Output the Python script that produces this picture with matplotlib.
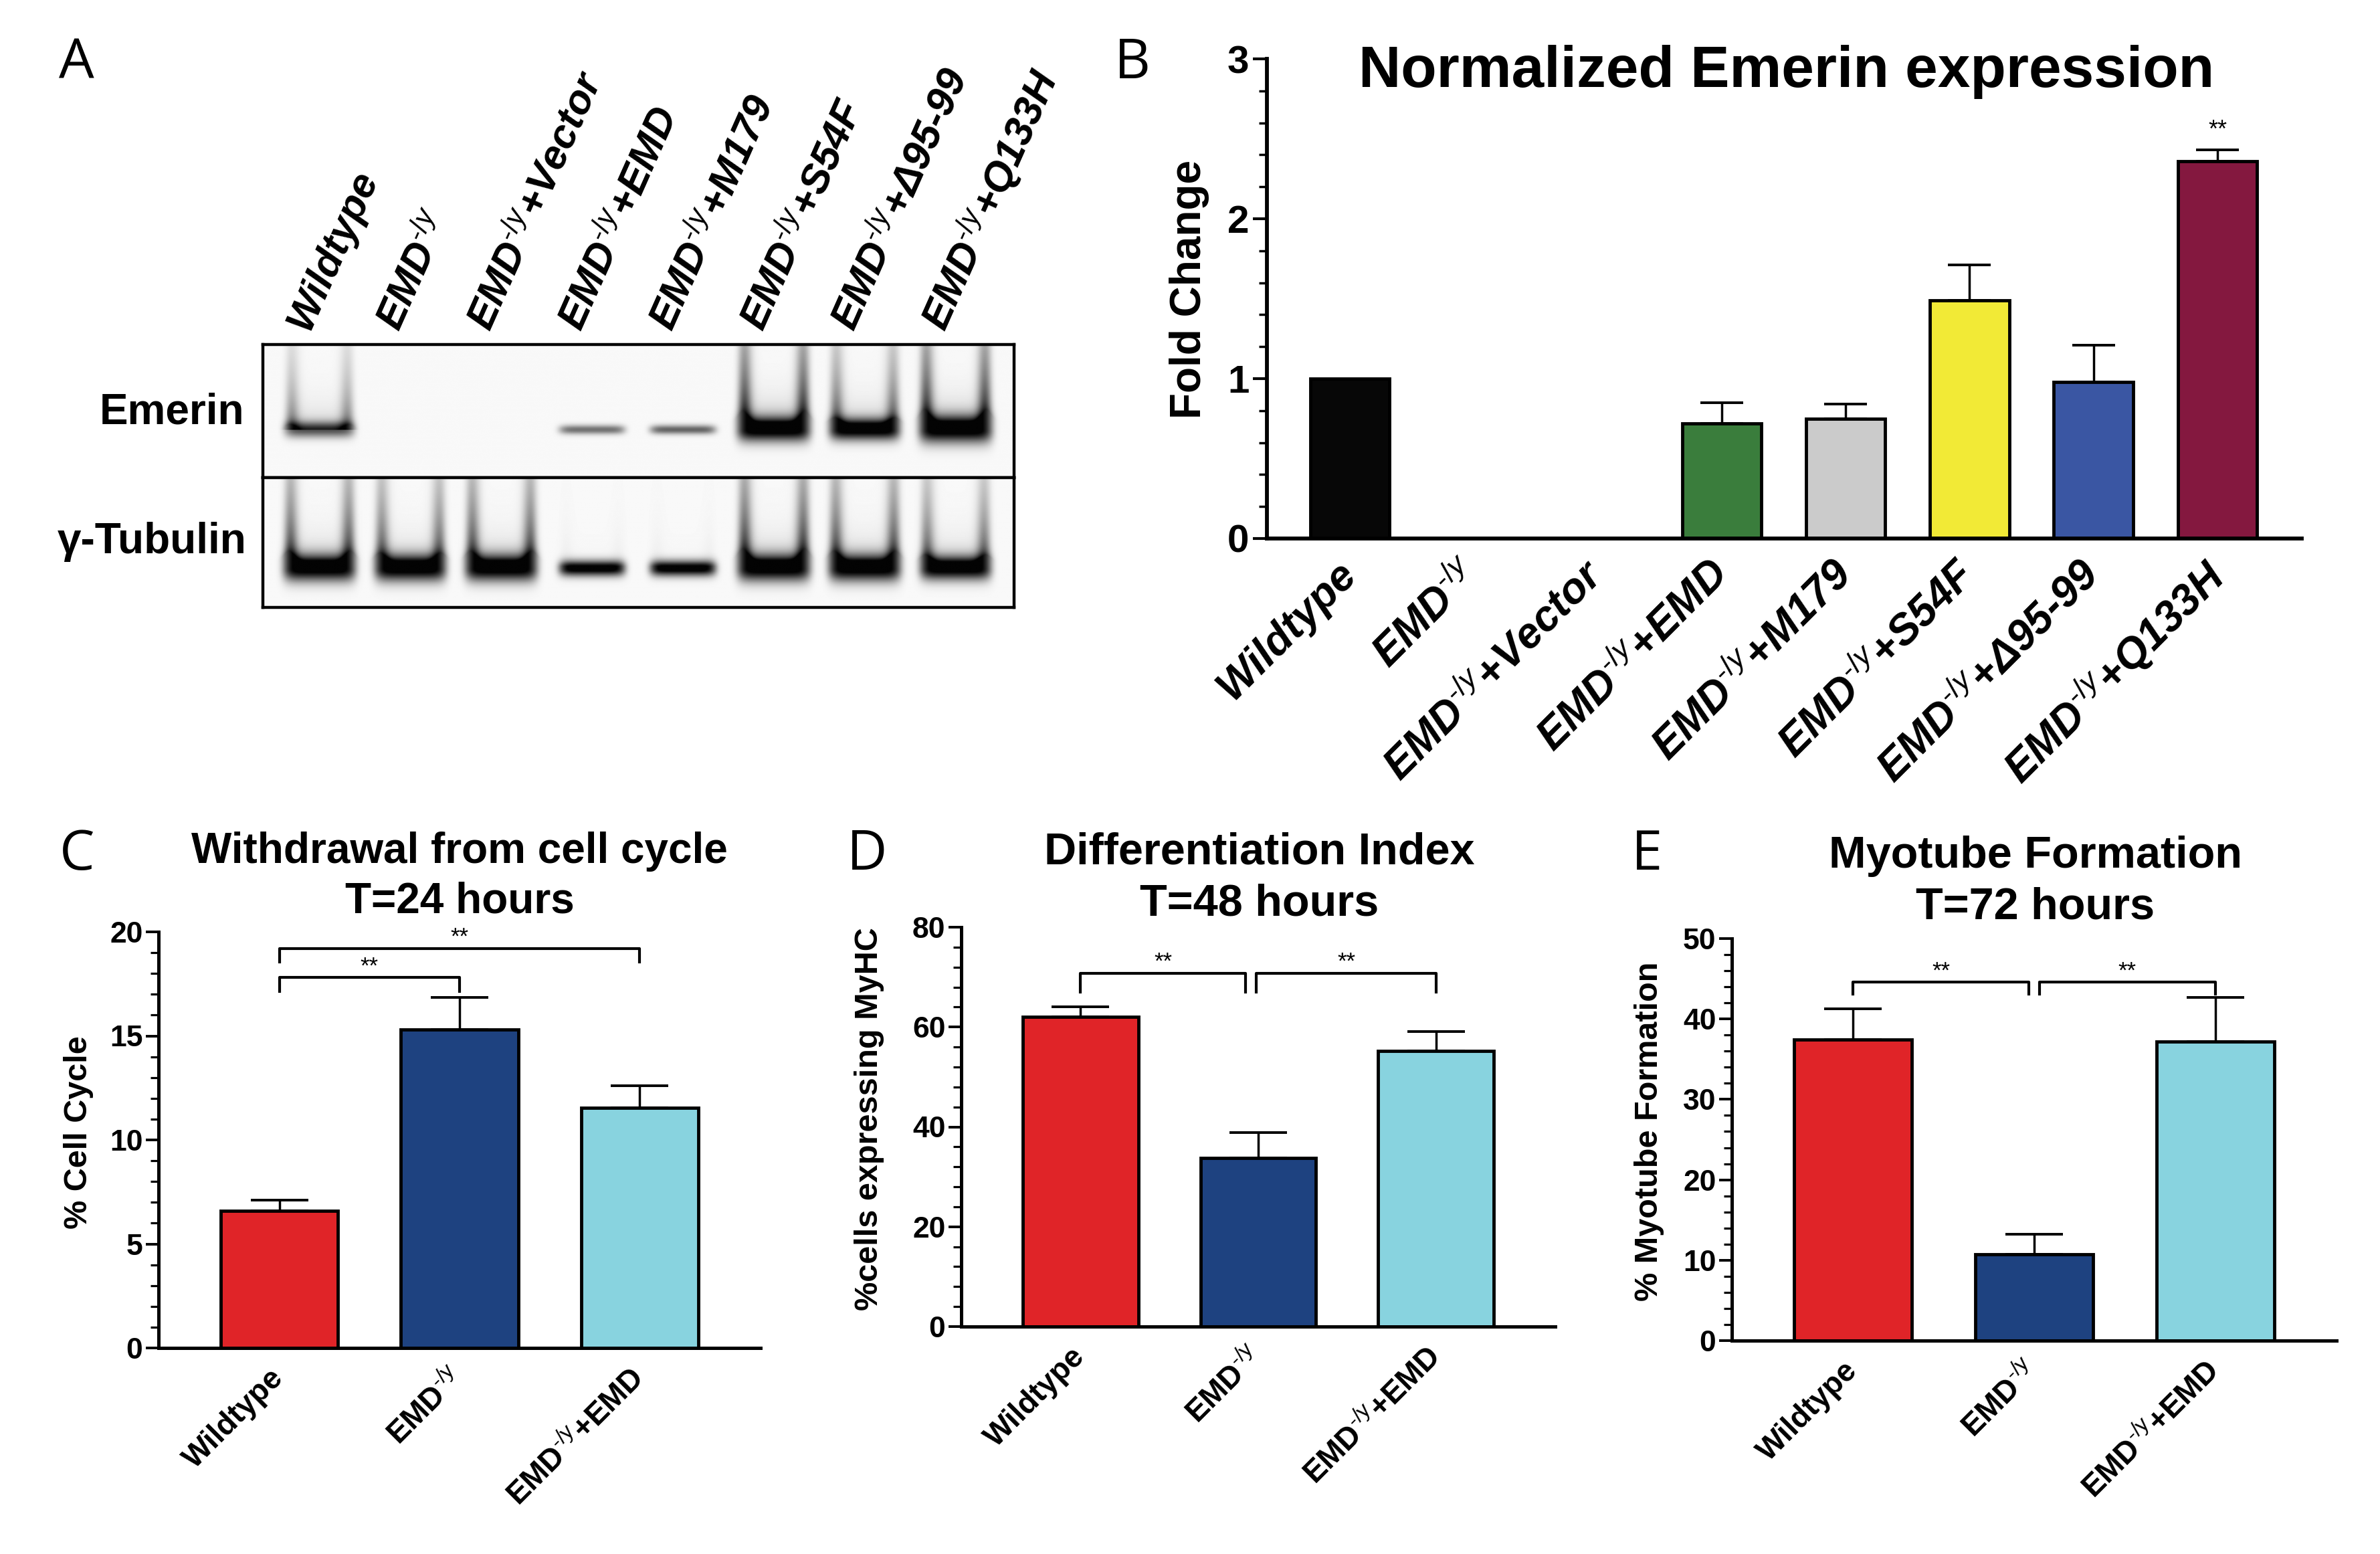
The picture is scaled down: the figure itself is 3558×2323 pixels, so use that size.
import numpy as np
import matplotlib.pyplot as plt
from matplotlib.ticker import MultipleLocator
from matplotlib.transforms import blended_transform_factory

plt.rcParams['font.family'] = ['Liberation Sans', 'DejaVu Sans']
plt.rcParams['mathtext.fontset'] = 'custom'
plt.rcParams['mathtext.rm'] = 'Liberation Sans'
plt.rcParams['mathtext.it'] = 'Liberation Sans:italic'
plt.rcParams['mathtext.bf'] = 'Liberation Sans:bold'

W, H, DPI = 3558, 2323, 100

# ---------------- data ----------------
sup_it = r'EMD$^{\text{-}\mathit{/y}}$'
lanes = ['Wildtype', sup_it, sup_it + '+Vector', sup_it + '+EMD', sup_it + '+M179',
         sup_it + '+S54F', sup_it + '+Δ95-99', sup_it + '+Q133H']
# western blot: band darkness, band thickness and how much it smears upward
emerin_band = [0.62, 0.0, 0.0, 0.5, 0.55, 1.0, 1.0, 1.0]
emerin_thick = [0.06, 0.0, 0.0, 0.035, 0.035, 0.09, 0.08, 0.1]
emerin_smear = [0.5, 0.0, 0.0, 0.0, 0.0, 1.0, 0.7, 1.0]
tubulin_band = [1.0, 1.0, 1.0, 1.0, 1.0, 1.0, 1.0, 1.0]
tubulin_thick = [0.1, 0.1, 0.1, 0.06, 0.06, 0.1, 0.1, 0.09]
tubulin_smear = [0.9, 0.8, 0.9, 0.05, 0.05, 1.0, 0.9, 0.75]

fold_mean = [1.0, 0.0, 0.0, 0.72, 0.75, 1.49, 0.98, 2.36]
fold_err = [0.0, 0.0, 0.0, 0.13, 0.09, 0.22, 0.23, 0.07]
fold_colors = ['#070707', '#070707', '#070707', '#3a7d3c', '#cbcbcb', '#f2ea36', '#3a56a3', '#84183f']
fold_sig = [7]

groups = ['Wildtype', r'EMD$^{\text{-/y}}$', r'EMD$^{\text{-/y}}$+EMD']
group_colors = ['#e02428', '#1e4280', '#88d3df']
cycle_mean = [6.6, 15.3, 11.55]
cycle_err = [0.5, 1.55, 1.05]
diff_mean = [62.1, 33.8, 55.2]
diff_err = [2.0, 5.1, 3.9]
myo_mean = [37.4, 10.7, 37.2]
myo_err = [3.9, 2.5, 5.5]

# significance brackets: (x start, x end, height, drop)
cycle_sig = [(0, 1, 17.8, 0.65), (0, 2, 19.2, 0.65)]
diff_sig = [(0, 0.93, 70.8, 3.8), (0.99, 2, 70.8, 3.8)]
myo_sig = [(0, 0.97, 44.6, 1.5), (1.03, 2, 44.6, 1.5)]

fig = plt.figure(figsize=(W / DPI, H / DPI), dpi=DPI)


def px_axes(x0, y0, x1, y1):
    return fig.add_axes([x0 / W, 1 - y1 / H, (x1 - x0) / W, (y1 - y0) / H])


def ftext(x, y, s, **kw):
    fig.text(x / W, 1 - y / H, s, **kw)


letter_kw = dict(family=['Open Sans', 'DejaVu Sans'], weight='normal', size=60, ha='center', va='center')

# ---------------- A: western blot ----------------
X0, X1 = -0.62, 7.64


def strip_image(band, thick, smear, yc):
    xs = np.linspace(X0, X1, 1100)
    ys = np.linspace(0, 1, 220)
    X, Y = np.meshgrid(xs, ys)
    dark = np.zeros_like(X)
    for i, (b, t, s) in enumerate(zip(band, thick, smear)):
        if b == 0:
            continue
        dx = X - i
        half = 0.36 + 0.04 * s
        horiz = np.exp(-(np.abs(dx) / half) ** 8)
        core = b * np.exp(-((Y - yc) / t) ** 2)
        above = np.clip((yc - Y), 0, None)
        edge = np.exp(-((np.abs(dx) - half * 0.85) / 0.09) ** 2)
        arms = s * edge * np.exp(-above / (0.25 + 0.4 * s)) * (Y < yc)
        haze = s * 0.4 * np.exp(-above / 0.12) * (Y < yc)
        dark += horiz * np.clip(core + arms + haze, 0, 1)
    return 0.975 - np.clip(dark * 1.1, 0, 1) * 0.96


ax_em = px_axes(393, 515, 1516, 714)
ax_tu = px_axes(393, 714, 1516, 908)
for ax, band, thick, smear, yc in [(ax_em, emerin_band, emerin_thick, emerin_smear, 0.64),
                                   (ax_tu, tubulin_band, tubulin_thick, tubulin_smear, 0.7)]:
    ax.imshow(strip_image(band, thick, smear, yc), cmap='gray', vmin=0, vmax=1,
              extent=(X0, X1, 1, 0), aspect='auto', interpolation='bilinear')
    ax.set_xlim(X0, X1)
    ax.set_ylim(1, 0)
    ax.set_xticks([])
    ax.set_yticks([])
    for sp in ax.spines.values():
        sp.set_linewidth(3.2)

tr = blended_transform_factory(ax_em.transData, ax_em.transAxes)
for i, lab in enumerate(lanes):
    ax_em.text(i - 0.12, 1.09, lab, transform=tr, rotation=66, rotation_mode='anchor',
               ha='left', va='baseline', size=44, weight='bold', style='italic')

ftext(365, 617, 'Emerin', ha='right', va='center', size=46, weight='bold')
ftext(369, 810, 'γ-Tubulin', ha='right', va='center', size=46, weight='bold')
ftext(114, 96, 'A', **letter_kw)

# ---------------- B: normalized emerin ----------------
axb = px_axes(1894, 88, 3441, 805)
xb = np.arange(len(fold_mean))
axb.bar(xb, fold_mean, width=0.64, color=fold_colors, edgecolor='black', linewidth=3.5, zorder=2)
err = np.array(fold_err)
m = err > 0
axb.errorbar(xb[m], np.array(fold_mean)[m], yerr=[np.zeros(m.sum()), err[m]], fmt='none',
             ecolor='black', elinewidth=2.5, capsize=23, capthick=2.8, zorder=1)
for i in fold_sig:
    axb.text(xb[i], fold_mean[i] + fold_err[i] + 0.12, '**', ha='center', va='center', size=26)
axb.set_xlim(-0.67, 7.68)
axb.set_ylim(0, 3)
axb.set_yticks([0, 1, 2, 3])
axb.yaxis.set_minor_locator(MultipleLocator(0.2))
axb.set_xticks(xb, lanes, rotation=45, ha='right', va='center', rotation_mode='anchor',
               size=46, weight='bold', style='italic')
axb.tick_params(axis='x', length=0, pad=32)
axb.tick_params(axis='y', which='major', length=15, width=3, labelsize=42, pad=4)
axb.tick_params(axis='y', which='minor', length=9, width=2.5)
for lab in axb.get_yticklabels():
    lab.set_fontweight('bold')
for s in ['top', 'right']:
    axb.spines[s].set_visible(False)
for s in ['left', 'bottom']:
    axb.spines[s].set_linewidth(4.2)
ftext(1778, 433, 'Fold Change', rotation=90, ha='center', va='center', size=46, weight='bold')
ftext(2671, 108, 'Normalized Emerin expression', ha='center', va='center', size=63, weight='bold')
ftext(1693, 96, 'B', **letter_kw)


# ---------------- C, D, E ----------------
def group_panel(box, mean, err, top, major, minor, sig, ylabel, ylab_xy, title, title_xy,
                letter, letter_xy, tsize):
    ax = px_axes(*box)
    x = np.arange(len(mean))
    ax.bar(x, mean, width=0.65, color=group_colors, edgecolor='black', linewidth=3.5, zorder=2)
    ax.errorbar(x, mean, yerr=[np.zeros(len(err)), err], fmt='none', ecolor='black',
                elinewidth=2.5, capsize=31, capthick=2.8, zorder=1)
    for x0, x1, y, drop in sig:
        ax.plot([x0, x0, x1, x1], [y - drop, y, y, y - drop], color='black', lw=3, clip_on=False)
        ax.text((x0 + x1) / 2, y + top * 0.027, '**', ha='center', va='center', size=25)
    ax.set_xlim(-0.67, 2.67)
    ax.set_ylim(0, top)
    ax.yaxis.set_major_locator(MultipleLocator(major))
    ax.yaxis.set_minor_locator(MultipleLocator(minor))
    ax.set_xticks(x, groups, rotation=45, ha='right', va='center', rotation_mode='anchor',
                  size=33, weight='bold')
    ax.tick_params(axis='x', length=0, pad=28)
    ax.tick_params(axis='y', which='major', length=14, width=2.8, labelsize=32, pad=3)
    ax.tick_params(axis='y', which='minor', length=9, width=2.3)
    for lab in ax.get_yticklabels():
        lab.set_fontweight('bold')
    for s in ['top', 'right']:
        ax.spines[s].set_visible(False)
    for s in ['left', 'bottom']:
        ax.spines[s].set_linewidth(3.6)
    ftext(*ylab_xy, ylabel, rotation=90, ha='center', va='center', size=35, weight='bold')
    ftext(*title_xy, title, ha='center', va='center', size=tsize, weight='bold', linespacing=1.3)
    ftext(*letter_xy, letter, **letter_kw)


group_panel((237, 1393, 1137, 2015), cycle_mean, cycle_err, 20, 5, 1, cycle_sig,
            '% Cell Cycle', (118, 1693), 'Withdrawal from cell cycle\nT=24 hours', (687, 1310),
            'C', (115, 1279), 46)
group_panel((1437, 1386, 2325, 1983), diff_mean, diff_err, 80, 20, 4, diff_sig,
            '%cells expressing MyHC', (1300, 1673), 'Differentiation Index\nT=48 hours', (1883, 1313),
            'D', (1296, 1279), 48)
group_panel((2589, 1403, 3493, 2004), myo_mean, myo_err, 50, 10, 2, myo_sig,
            '% Myotube Formation', (2466, 1691), 'Myotube Formation\nT=72 hours', (3043, 1318),
            'E', (2462, 1279), 48)

fig.savefig('out.png', dpi=DPI)
